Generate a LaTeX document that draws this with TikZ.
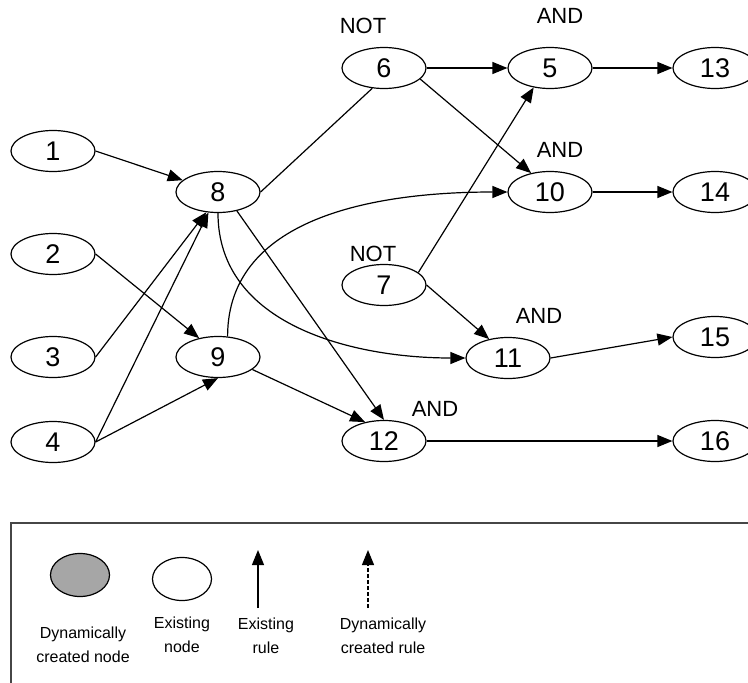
\documentclass[tikz,border=0pt]{standalone}
\usepackage{fontspec}
\setmainfont{Liberation Sans}
\usetikzlibrary{arrows.meta,shapes.geometric}
\definecolor{dyngray}{RGB}{166,166,166}
\definecolor{boxgray}{RGB}{70,70,70}

\begin{document}
\begin{tikzpicture}[x=1pt,y=-1pt,>={Triangle[length=15pt,width=12pt]},line width=1.2pt,
                    main node/.style={ellipse,draw,minimum width=84pt,minimum height=41pt,inner sep=0pt,
                                      font=\fontsize{27}{27}\selectfont},
                    gate/.style={font=\fontsize{22}{22}\selectfont},
                    key node/.style={ellipse,draw,minimum width=59pt,minimum height=43pt,inner sep=0pt},
                    key text/.style={align=center,font=\fontsize{16}{24}\selectfont}]
  \useasboundingbox (0,0) rectangle (748,683);
  \clip (0,0) rectangle (748,683);

  % Nodes
  \node[main node] (n1) at (53,151) {1};
  \node[main node] (n2) at (53,254) {2};
  \node[main node] (n3) at (53,357) {3};
  \node[main node] (n4) at (53,442) {4};
  \node[main node] (n8) at (218,192) {8};
  \node[main node] (n9) at (218,357) {9};
  \node[main node] (n6) at (384,68) {6};
  \node[main node] (n7) at (384,285) {7};
  \node[main node] (n12) at (384,441) {12};
  \node[main node] (n5) at (550,68) {5};
  \node[main node] (n10) at (550,192) {10};
  \node[main node] (n11) at (508,358) {11};
  \node[main node] (n13) at (715,68) {13};
  \node[main node] (n14) at (715,192) {14};
  \node[main node] (n15) at (715,337) {15};
  \node[main node] (n16) at (715,441) {16};

  % Gate labels
  \node[gate] (not6) at (363,26) {NOT};
  \node[gate] (and5) at (560,16) {AND};
  \node[gate] (and10) at (560,150) {AND};
  \node[gate] (not7) at (373,254) {NOT};
  \node[gate] (and11) at (539,316) {AND};
  \node[gate] (and12) at (435,409) {AND};

  % Edges
  \draw[->] (n1.east) -- (n8);
  \draw[->] (n2.east) -- (n9.135);
  \draw[->] (n3.east) -- (n8.240);
  \draw[->] (n4.east) -- (n8.245);
  \draw[->] (n4.east) -- (n9.south);
  \draw (n8.east) -- (n6.240);
  \draw[->] (n6.east) -- (n5.west);
  \draw[->] (n6.-17) -- (n10.135);
  \draw[->] (n7.20) -- (n5.230);
  \draw[->] (n7.east) -- (n11.135);
  \draw[->] (n8.south) to[out=-90,in=180] (n11.west);
  \draw[->] (n9.65) to[out=90,in=180] (n10.west);
  \draw[->] (n8.-45) -- (n12.north);
  \draw[->] (n9.-20) -- (n12.135);
  \draw[->] (n5.east) -- (n13.west);
  \draw[->] (n10.east) -- (n14.west);
  \draw[->] (n11.east) -- (n15.west);
  \draw[->] (n12.east) -- (n16.west);

  % Legend
  \draw[boxgray,line width=1.4pt] (11,523) rectangle (760,700);
  \node[key node,fill=dyngray] (dynnode) at (80,575) {};
  \node[key node] (oldnode) at (182,579) {};
  \coordinate (rulefoot) at (258,608);
  \coordinate (rulehead) at (258,550);
  \coordinate (dynfoot) at (368,608);
  \coordinate (dynhead) at (368,550);
  \draw[->] (rulefoot) -- (rulehead);
  \draw[->,dash pattern=on 4pt off 2pt] (dynfoot) -- (dynhead);
  \node[key text] (dynnodetext) at (83,645) {Dynamically\\created node};
  \node[key text] (oldnodetext) at (182,635) {Existing\\node};
  \node[key text] (oldruletext) at (266,636) {Existing\\rule};
  \node[key text] (dynruletext) at (383,636) {Dynamically\\created rule};
\end{tikzpicture}
\end{document}
